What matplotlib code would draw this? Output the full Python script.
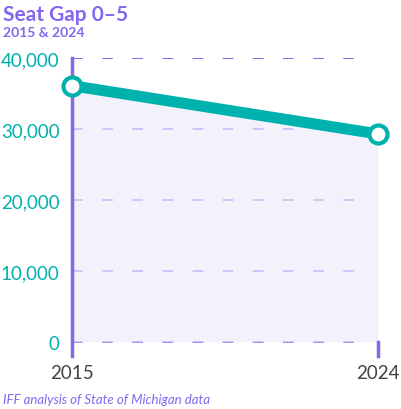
import matplotlib.pyplot as plt
from matplotlib.ticker import FuncFormatter

years = [2015, 2024]
seat_gap = [36100, 29300]
y_ticks = [0, 10000, 20000, 30000, 40000]

purple = "#8466ef"
teal = "#00b2ad"
grey = "#404448"

plt.rcParams["font.family"] = ["Lato", "DejaVu Sans"]

fig = plt.figure(figsize=(4.01, 4.10), dpi=100)
ax = fig.add_axes([0.1796, 0.1293, 0.7630, 0.7268])

ax.set_xlim(years[0], years[-1])
ax.set_ylim(-1980, 40000)

# dashed guide lines
for t in y_ticks:
    ax.plot([years[0], years[-1] - 0.18], [t, t], color=purple, lw=1.4,
            dashes=(5.5, 10), zorder=1)

ax.fill_between(years, seat_gap, 0, color="#efecfc", alpha=0.7, lw=0, zorder=2)
ax.plot(years, seat_gap, color=teal, lw=8, solid_capstyle="butt", zorder=3)
ax.plot(years, seat_gap, "o", ms=13, mfc="white", mec=teal, mew=3,
        zorder=4, clip_on=False)

ax.axvline(years[-1], ymin=0, ymax=1980 / 41980, color=purple, lw=2.5, clip_on=False)

for s in ["top", "right", "bottom"]:
    ax.spines[s].set_visible(False)
ax.spines["left"].set_color(purple)
ax.spines["left"].set_linewidth(2.5)

ax.set_yticks(y_ticks)
ax.yaxis.set_major_formatter(FuncFormatter(lambda v, p: f"{int(v):,}"))
ax.tick_params(axis="y", length=0, pad=9, labelsize=13.5, labelcolor=teal)
ax.set_xticks(years)
ax.set_xticklabels([str(y) for y in years])
ax.tick_params(axis="x", length=0, pad=6, labelsize=13.5, labelcolor=grey)

fig.text(0.007, 0.988, "Seat Gap 0\u20135", color=purple, fontsize=15,
         fontweight="bold", va="top", ha="left")
fig.text(0.007, 0.935, "2015 & 2024", color=purple, fontsize=10,
         fontweight="bold", va="top", ha="left")
fig.text(0.007, 0.01, "IFF analysis of State of Michigan data", color=purple,
         fontsize=9.5, style="italic", va="bottom", ha="left")

fig.savefig("out.png", dpi=100, facecolor="white")
